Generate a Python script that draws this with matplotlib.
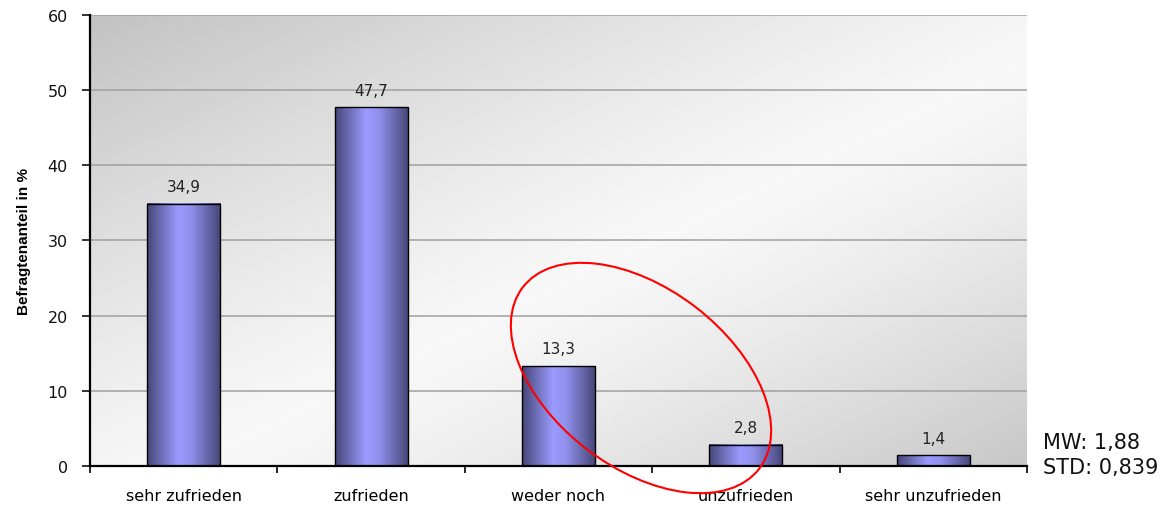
import numpy as np
import matplotlib
matplotlib.use("Agg")
import matplotlib.pyplot as plt
from matplotlib.patches import Ellipse
from matplotlib.transforms import IdentityTransform
from matplotlib.colors import LinearSegmentedColormap

# Zufriedenheit der Befragten
kategorien = ["sehr zufrieden", "zufrieden", "weder noch", "unzufrieden", "sehr unzufrieden"]
anteile = [34.9, 47.7, 13.3, 2.8, 1.4]
beschriftung = ["34,9", "47,7", "13,3", "2,8", "1,4"]
y_ticks = [0, 10, 20, 30, 40, 50, 60]
kennwerte = "MW: 1,88\nSTD: 0,839"

plt.rcParams['font.family'] = ['DejaVu Sans']

fig = plt.figure(figsize=(11.73, 5.06), dpi=100)
ax = fig.add_axes([0.0767, 0.0771, 0.7988, 0.8913])

x = np.arange(len(kategorien))
breite = 0.39

# grauer Hintergrund mit diagonalem Verlauf
gx, gy = np.meshgrid(np.linspace(0, 1, 300), np.linspace(0, 1, 200))
d = (gx + gy) / 2
grau = 0.97 - 0.21 * np.clip((0.55 - d) / 0.55, 0, 1) ** 1.2 - 0.19 * np.clip((d - 0.55) / 0.45, 0, 1) ** 1.3
ax.imshow(grau, cmap="gray", vmin=0, vmax=1, extent=[-0.5, 4.5, 0, 60],
          aspect="auto", zorder=0, interpolation="bilinear")

for y in y_ticks[1:]:
    ax.axhline(y, color="#a0a0a0", lw=1.1, zorder=1)

# Balken mit horizontalem Farbverlauf
verlauf = LinearSegmentedColormap.from_list(
    "balken", [(0, "#47477a"), (0.42, "#9b9bff"), (0.6, "#9090ec"), (1, "#464678")])
streifen = np.linspace(0, 1, 100).reshape(1, -1)
for xi, wert, txt in zip(x, anteile, beschriftung):
    ax.imshow(streifen, cmap=verlauf, extent=[xi - breite / 2, xi + breite / 2, 0, wert],
              aspect="auto", zorder=2, interpolation="bilinear")
    ax.bar(xi, wert, width=breite, facecolor="none", edgecolor="black", lw=1.0, zorder=3)
    ax.text(xi, wert + 1.3, txt, ha="center", va="bottom", fontsize=11, color="#222222")

ax.set_xlim(-0.5, len(kategorien) - 0.5)
ax.set_ylim(0, 60)

ax.spines["top"].set_visible(False)
ax.spines["right"].set_visible(False)
ax.spines["left"].set_linewidth(1.6)
ax.spines["bottom"].set_linewidth(1.6)
ax.spines["left"].set_zorder(4)
ax.spines["bottom"].set_zorder(4)

ax.set_yticks(y_ticks)
ax.tick_params(axis="y", length=6, width=1.2, pad=10, labelsize=11.5, colors="#111111")
ax.set_xticks(x)
ax.set_xticklabels(kategorien)
ax.tick_params(axis="x", which="major", length=0, pad=16, labelsize=11.5)
ax.set_xticks(np.arange(-0.5, len(kategorien)), minor=True)
ax.tick_params(axis="x", which="minor", length=5, width=1.2)

ax.set_ylabel("Befragtenanteil in %", fontsize=11, fontweight="bold",
              family="Liberation Sans", labelpad=12)

fig.text(0.889, 0.1, kennwerte, fontsize=15, ha="left", va="center",
         linespacing=1.3, color="#111111")

# rote Markierung um die mittleren Kategorien
kreis = Ellipse((641, 506 - 379), 298, 179, angle=-37.5, transform=IdentityTransform(),
                fill=False, edgecolor="red", lw=1.5, zorder=6)
fig.patches.append(kreis)

plt.savefig("out.png", dpi=100)
